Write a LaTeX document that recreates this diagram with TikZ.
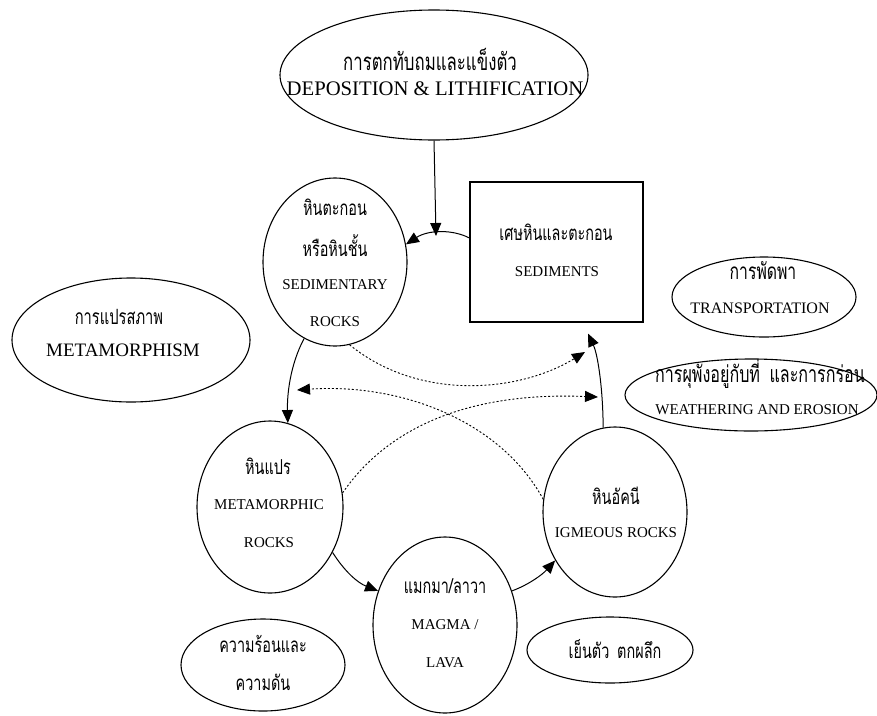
\documentclass[tikz,border=0pt]{standalone}
\usepackage{fontspec}
\setmainfont{Liberation Serif}
\newfontfamily\thaifont[Script=Thai,FakeStretch=0.7]{Loma}
\usetikzlibrary{shapes.geometric,arrows.meta,calc}
\begin{document}
\begin{tikzpicture}[x=1pt,y=-1pt,
  shp/.style={draw,line width=1.1pt,ellipse,inner sep=0pt},
  en/.style={font=\fontsize{15}{18}\selectfont, inner sep=0pt},
  enbig/.style={font=\fontsize{19}{22}\selectfont, inner sep=0pt},
  th/.style={font=\thaifont\fontsize{20.6}{24}\selectfont, inner sep=0pt},
  thbig/.style={font=\thaifont\fontsize{24}{28}\selectfont, inner sep=0pt},
  arr/.style={-{Triangle[length=13pt,width=11pt]}, line width=1pt},
  darr/.style={-{Triangle[length=13pt,width=11pt]}, dash pattern=on 2pt off 2pt, line width=0.9pt}]
\useasboundingbox (0,0) rectangle (877,715);
\fill[white] (0,0) rectangle (877,715);

% shapes
\node[shp, minimum width=308pt, minimum height=130pt] (dep) at (434,75) {};
\node[shp, minimum width=144pt, minimum height=168pt] (sed) at (335,262) {};
\node[draw, line width=1.1pt, minimum width=173pt, minimum height=140pt, inner sep=0pt] (sedi) at (556.5,252) {};
\node[shp, minimum width=184pt, minimum height=80pt] (trans) at (764,297) {};
\node[shp, minimum width=252pt, minimum height=72pt] (weath) at (751,395) {};
\node[shp, minimum width=238pt, minimum height=124pt] (metam) at (131,340) {};
\node[shp, minimum width=146pt, minimum height=172pt] (met) at (270,507) {};
\node[shp, minimum width=144pt, minimum height=176pt] (mag) at (445,625) {};
\node[shp, minimum width=144pt, minimum height=170pt] (ign) at (615,512) {};
\node[shp, minimum width=166pt, minimum height=66pt] (cool) at (610,650) {};
\node[shp, minimum width=164pt, minimum height=92pt] (heat) at (263,665) {};

% texts
\node[thbig] (depT) at (430,59) {การตกทับถมและแข็งตัว};
\node[enbig, font=\fontsize{20.7}{24}\selectfont] (depE) at (435,89) {DEPOSITION \& LITHIFICATION};
\node[th] (sedT1) at (335,207) {หินตะกอน};
\node[th] (sedT2) at (335,246) {หรือหินชั้น};
\node[en] (sedE1) at (335,285) {SEDIMENTARY};
\node[en] (sedE2) at (335,322) {ROCKS};
\node[th] (sediT) at (556,232) {เศษหินและตะกอน};
\node[en] (sediE) at (557,272) {SEDIMENTS};
\node[th, font=\thaifont\fontsize{22.5}{26}\selectfont] (transT) at (763,271) {การพัดพา};
\node[en, font=\fontsize{16}{19}\selectfont] (transE) at (760,308) {TRANSPORTATION};
\node[th, font=\thaifont\fontsize{23}{26}\selectfont] (weathT) at (760,374) {การผุพังอยู่กับที่\hspace{4pt} และการกร่อน};
\node[en] (weathE) at (757,410) {WEATHERING AND EROSION};
\node[th, font=\thaifont\fontsize{21}{24}\selectfont] (metamT) at (119,317) {การแปรสภาพ};
\node[enbig] (metamE) at (123,350) {METAMORPHISM};
\node[th] (metT) at (268,466) {หินแปร};
\node[en] (metE1) at (269,505) {METAMORPHIC};
\node[en] (metE2) at (269,543) {ROCKS};
\node[th] (magT) at (445,586) {แมกมา/ลาวา};
\node[en] (magE1) at (445,625) {MAGMA /};
\node[en] (magE2) at (445,663) {LAVA};
\node[th] (ignT) at (616,496) {หินอัคนี};
\node[en] (ignE) at (616,533) {IGMEOUS ROCKS};
\node[th] (coolT) at (615,649) {เย็นตัว\hspace{3pt} ตกผลึก};
\node[th] (heatT1) at (263,644) {ความร้อนและ};
\node[th] (heatT2) at (263,682) {ความดัน};

% free ends
\coordinate (depTip) at (436,236);
\coordinate (sediTip) at ($(sedi.south)+(31.5,11)$);
\coordinate (d1Tip) at (585,352);
\coordinate (d2Tip) at (297,390);
\coordinate (d3Tip) at (598,397);

% connectors
\draw[arr] (dep.south) -- (depTip);
\draw[arr] ([yshift=14pt]sedi.west) .. controls (452,229) and (428,230) .. (sed.14);
\draw[arr] (sed.248) .. controls (290,365) and (287,395) .. (met.78);
\draw[arr] (met.324) .. controls (345,572) and (358,583) .. (mag.153);
\draw[arr] (mag.27) .. controls (528,585) and (542,575) .. (ign.219);
\draw[arr] (ign.98) .. controls (603,390) and (598,355) .. (sediTip);
\draw[darr] (sed.280) .. controls (420,402) and (520,392) .. (d1Tip);
\draw[darr] (ign.170) .. controls (500,420) and (400,383) .. (d2Tip);
\draw[darr] (met.11) .. controls (400,410) and (500,393) .. (d3Tip);
\end{tikzpicture}
\end{document}
